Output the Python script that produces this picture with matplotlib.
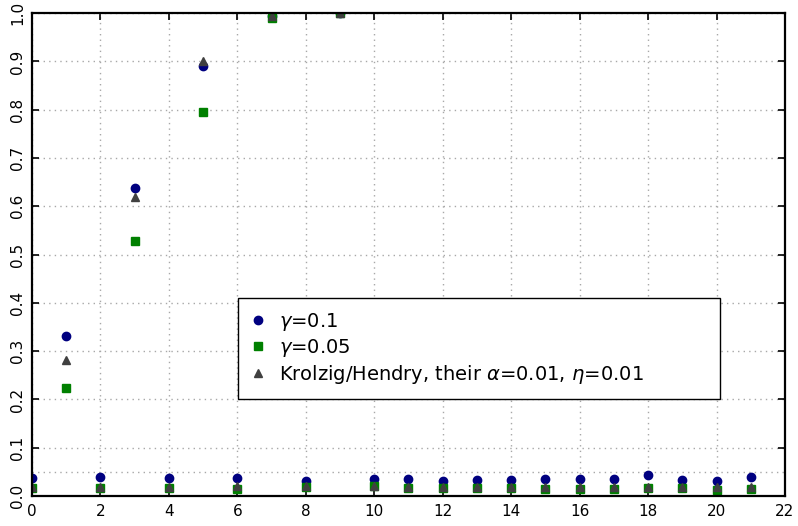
import matplotlib
matplotlib.use('Agg')
import matplotlib.pyplot as plt
import numpy as np

# number of irrelevant variables / lag index on the x axis
steps = list(range(22))

gamma_01 = [0.038, 0.331, 0.039, 0.638, 0.038, 0.890, 0.038, 0.995, 0.031, 1.000,
            0.036, 0.035, 0.032, 0.034, 0.034, 0.035, 0.036, 0.035, 0.043, 0.034,
            0.031, 0.039]
gamma_005 = [0.016, 0.223, 0.016, 0.528, 0.016, 0.795, 0.014, 0.990, 0.019, 1.000,
             0.021, 0.016, 0.016, 0.017, 0.017, 0.015, 0.015, 0.014, 0.016, 0.016,
             0.012, 0.014]
krolzig = [0.018, 0.282, 0.019, 0.620, 0.019, 0.900, 0.020, 0.995, 0.020, 1.000,
           0.021, 0.018, 0.018, 0.019, 0.018, 0.019, 0.019, 0.019, 0.018, 0.019,
           0.019, 0.019]

labels = [r'$\gamma$=0.1', r'$\gamma$=0.05',
          r'Krolzig/Hendry, their $\alpha$=0.01, $\eta$=0.01']

plt.rcParams['font.family'] = ['DejaVu Sans']
plt.rcParams['mathtext.fontset'] = 'dejavusans'

fig = plt.figure(figsize=(7.98, 5.26), dpi=100)
ax = fig.add_axes([0.0401, 0.057, 0.9436, 0.918])

ax.plot(steps, gamma_01, 'o', color='#000080', markersize=6, label=labels[0])
ax.plot(steps, gamma_005, 's', color='#008000', markersize=5.3, label=labels[1])
ax.plot(steps, krolzig, '^', color='#404040', markersize=6, label=labels[2])

ax.set_xlim(0, 22)
ax.set_ylim(0, 1.0)
ax.set_xticks(np.arange(0, 23, 2))
ax.set_yticks(np.arange(0, 1.01, 0.1))
ax.set_yticklabels(['%.1f' % v for v in np.arange(0, 1.01, 0.1)],
                   rotation=90, va='center')

grid_style = dict(linestyle=(0, (1, 3)), color='#a8a8a8', linewidth=1)
ax.grid(True, **grid_style)
ax.axhline(0.05, zorder=0.5, **grid_style)

ax.tick_params(direction='in', top=True, right=True, length=5, width=1.2,
               labelsize=11)
ax.tick_params(axis='x', pad=6)
ax.tick_params(axis='y', pad=5)
for s in ax.spines.values():
    s.set_linewidth(1.6)

leg = ax.legend(loc='upper left', bbox_to_anchor=(0.2736, 0.2008, 0.640, 0.2092),
                mode='expand', borderaxespad=0,
                fontsize=14, fancybox=False, framealpha=1, edgecolor='black',
                handletextpad=0.65, handlelength=0.8, borderpad=0.65,
                labelspacing=0.22, numpoints=1)
leg.get_frame().set_linewidth(1.0)

fig.savefig('out.png', dpi=100)
